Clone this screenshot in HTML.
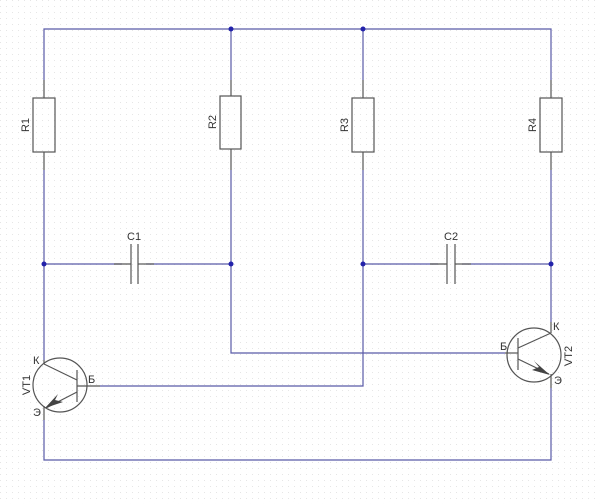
<!DOCTYPE html>
<html><head><style>
html,body{margin:0;padding:0;background:#fff;}
svg{display:block;}
text{font-family:"Liberation Sans",sans-serif;font-size:11px;fill:#333;}
</style></head><body>
<svg width="600" height="502" viewBox="0 0 600 502" xmlns="http://www.w3.org/2000/svg">
<defs><pattern id="g" width="6" height="6" patternUnits="userSpaceOnUse"><rect x="0" y="0" width="1" height="1" fill="#e6e6e6"/></pattern></defs>
<rect width="600" height="502" fill="url(#g)"/>
<g stroke="#5a5aa8" stroke-width="1.2" fill="none">
<polyline points="44,80 44,29 551,29 551,80"/>
<line x1="231" y1="29" x2="231" y2="80"/>
<line x1="363" y1="29" x2="363" y2="80"/>
<line x1="44" y1="170" x2="44" y2="360"/>
<line x1="551" y1="170" x2="551" y2="322"/>
<polyline points="231,170 231,353 505,353"/>
<polyline points="363,170 363,386 100,386"/>
<line x1="44" y1="264" x2="122" y2="264"/>
<line x1="146" y1="264" x2="231" y2="264"/>
<line x1="363" y1="264" x2="438" y2="264"/>
<line x1="462" y1="264" x2="551" y2="264"/>
<polyline points="44,420 44,460 551,460 551,388"/>
</g>
<g fill="#2222aa">
<circle cx="231" cy="29" r="2.5"/><circle cx="363" cy="29" r="2.5"/>
<circle cx="44" cy="264" r="2.5"/><circle cx="231" cy="264" r="2.5"/>
<circle cx="363" cy="264" r="2.5"/><circle cx="551" cy="264" r="2.5"/>
</g>
<g stroke="#555" stroke-width="1.2" fill="none">
<line x1="44" y1="80" x2="44" y2="98"/><rect x="33" y="98" width="22" height="54"/><line x1="44" y1="152" x2="44" y2="170"/>
<line x1="231" y1="80" x2="231" y2="96"/><rect x="220" y="96" width="21" height="53"/><line x1="231" y1="149" x2="231" y2="170"/>
<line x1="363" y1="80" x2="363" y2="98"/><rect x="352" y="98" width="22" height="54"/><line x1="363" y1="152" x2="363" y2="170"/>
<line x1="551" y1="80" x2="551" y2="98"/><rect x="540" y="98" width="22" height="54"/><line x1="551" y1="152" x2="551" y2="170"/>
<line x1="114" y1="264" x2="131" y2="264"/><line x1="138" y1="264" x2="154" y2="264"/>
<line x1="131" y1="244" x2="131" y2="284"/><line x1="138" y1="244" x2="138" y2="284"/>
<line x1="430" y1="264" x2="447" y2="264"/><line x1="455" y1="264" x2="471" y2="264"/>
<line x1="447" y1="244" x2="447" y2="284"/><line x1="455" y1="244" x2="455" y2="284"/>
<circle cx="60" cy="385" r="27"/>
<line x1="44" y1="360" x2="44" y2="364"/>
<line x1="44" y1="364" x2="77" y2="380"/>
<line x1="77" y1="370" x2="77" y2="402"/>
<line x1="77" y1="386" x2="100" y2="386"/>
<line x1="77" y1="392" x2="46" y2="408"/>
<line x1="44" y1="406" x2="44" y2="420"/>
<circle cx="534" cy="355" r="27"/>
<line x1="505" y1="353" x2="518" y2="353"/>
<line x1="518" y1="338" x2="518" y2="370"/>
<line x1="518" y1="348" x2="551" y2="333"/>
<line x1="518" y1="359" x2="549" y2="374"/>
<line x1="551" y1="322" x2="551" y2="333"/>
<line x1="551" y1="374" x2="551" y2="388"/>
</g>
<polygon points="45,408 58,394 55,400 63,402" fill="#444"/>
<polygon points="550,375 534,361 539,367 532,370" fill="#444"/>
<text x="127" y="240">C1</text>
<text x="444" y="240">C2</text>
<text transform="translate(29,125) rotate(-90)" text-anchor="middle">R1</text>
<text transform="translate(216,122) rotate(-90)" text-anchor="middle">R2</text>
<text transform="translate(348,125) rotate(-90)" text-anchor="middle">R3</text>
<text transform="translate(536,125) rotate(-90)" text-anchor="middle">R4</text>
<text transform="translate(30,385) rotate(-90)" text-anchor="middle">VT1</text>
<text transform="translate(572,356) rotate(-90)" text-anchor="middle">VT2</text>
<text x="33" y="364" font-size="10">К</text>
<text x="88" y="383" font-size="10">Б</text>
<text x="33" y="416" font-size="10">Э</text>
<text x="553" y="330" font-size="10">К</text>
<text x="500" y="350" font-size="10">Б</text>
<text x="554" y="384" font-size="10">Э</text>
</svg>
</body></html>
